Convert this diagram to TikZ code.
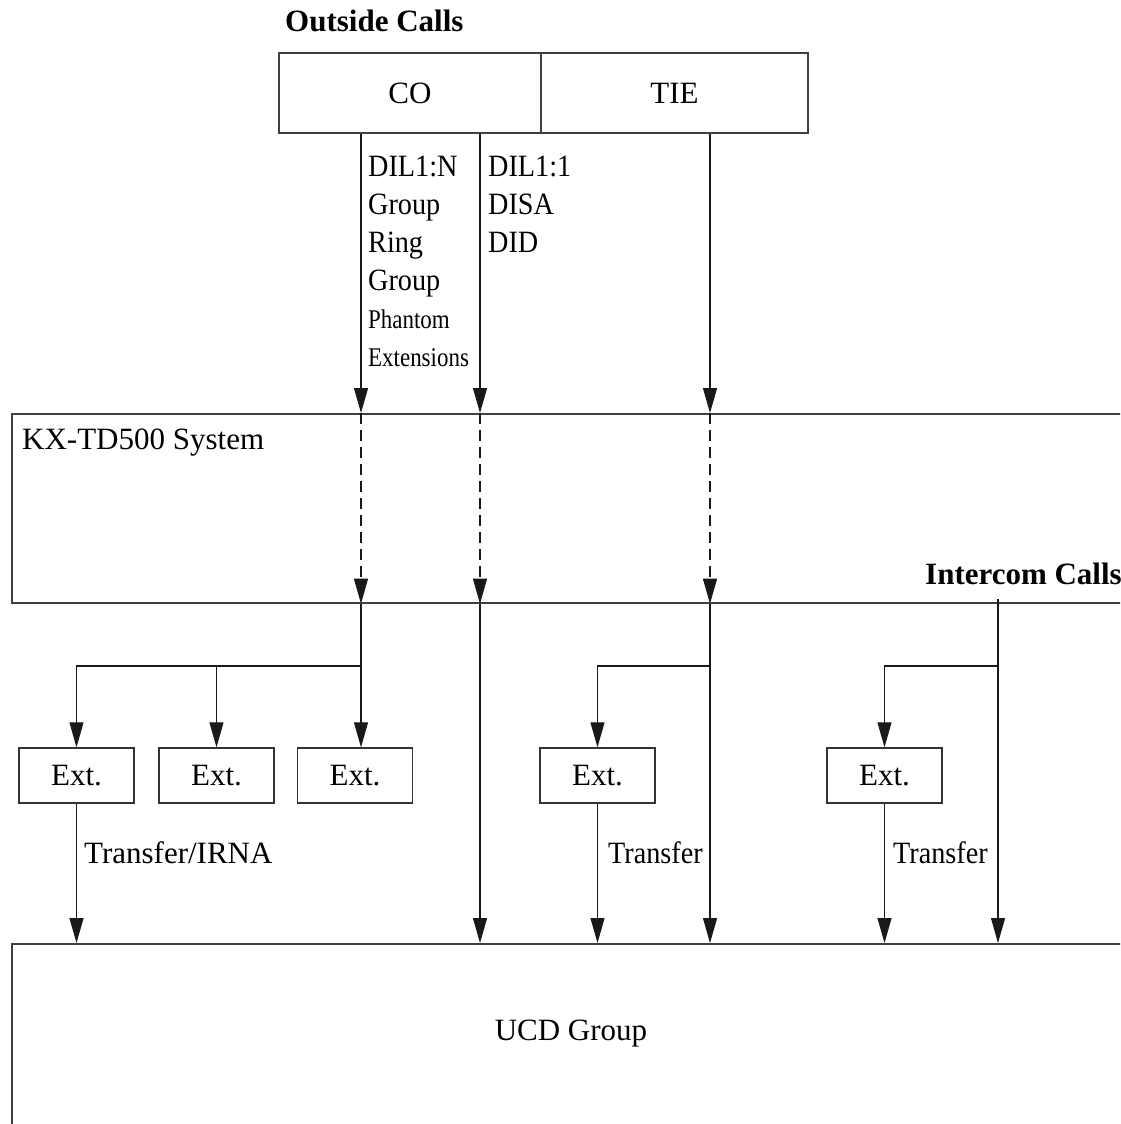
\documentclass[tikz,border=0pt]{standalone}
\usepackage{fontspec}
\setmainfont{Liberation Serif}
\newfontfamily\narrowserif[FakeStretch=0.85]{Liberation Serif}
\newfontfamily\condserif[FakeStretch=0.91]{Liberation Serif}
\usetikzlibrary{positioning, arrows.meta}

\begin{document}
\begin{tikzpicture}[
    x=1pt, y=-1pt,
    every node/.style={font=\fontsize{31}{38}\selectfont, inner sep=0pt},
    heading/.style={font=\fontsize{31}{38}\selectfont\bfseries},
    cond/.style={font=\condserif\fontsize{31}{38}\selectfont},
    trunk/.style={draw=black!75, line width=1.7pt, minimum height=80pt},
    sysbox/.style={draw=black!75, line width=1.7pt, anchor=north west,
        minimum width=1150pt},
    extbox/.style={draw=black!80, line width=1.4pt, minimum width=115pt,
        minimum height=55pt},
    arr/.style={-{Triangle[length=25pt, width=14pt]}, line width=1.1pt, color=black!90},
    darr/.style={arr, dash pattern=on 11pt off 6pt},
    lbl/.style={anchor=base west},
]
\clip (0,0) rectangle (1120,1124);

% Outside calls (top)
\node[heading, lbl] (outside) at (285,32) {Outside Calls};
\node[trunk, minimum width=262pt] (co) at (410,93) {CO};
\node[trunk, minimum width=267pt] (tie) at (674.5,93) {TIE};

% columns of the incoming lines
\coordinate (colA) at (361,0);
\coordinate (colB) at (480,0);
\coordinate (colC) at (710,0);
\coordinate (colD) at (998,0);

\node[cond, anchor=north west, align=left] (dilN) at (368,156)
    {DIL1:N\\Group\\Ring\\Group\\{\narrowserif\fontsize{27}{38}\selectfont Phantom}\\{\narrowserif\fontsize{27}{38}\selectfont Extensions}};
\node[cond, anchor=north west, align=left] (dilOne) at (488,156) {DIL1:1\\DISA\\DID};

% System box
\node[sysbox, minimum height=189pt] (kx) at (11,413) {};
\node[lbl] (kxlabel) at (22,449) {KX-TD500 System};
\node[heading, anchor=base east] (intercom) at (1122,584) {Intercom Calls};

% Extensions
\node[extbox] (ext1) at (76.5,775.5) {Ext.};
\node[extbox] (ext2) at (216.5,775.5) {Ext.};
\node[extbox] (ext3) at (355,775.5) {Ext.};
\node[extbox] (ext4) at (597.5,775.5) {Ext.};
\node[extbox] (ext5) at (884.5,775.5) {Ext.};

% UCD group (bottom)
\node[sysbox, minimum height=300pt] (ucd) at (11,943) {};
\node (ucdlabel) at (571,1034) {UCD Group};

\node[lbl] (tirna) at (84,863) {Transfer/IRNA};
\node[cond, lbl] (tfer1) at (608,863) {Transfer};
\node[cond, lbl] (tfer2) at (893,863) {Transfer};

% ── Arrows ──
\draw[arr] (co.south -| colA) -- (kx.north -| colA);
\draw[arr] (co.south -| colB) -- (kx.north -| colB);
\draw[arr] (tie.south -| colC) -- (kx.north -| colC);

\draw[darr] (kx.north -| colA) -- (kx.south -| colA);
\draw[darr] (kx.north -| colB) -- (kx.south -| colB);
\draw[darr] (kx.north -| colC) -- (kx.south -| colC);

\coordinate (splitA) at (361,666);
\coordinate (splitC) at (710,666);
\coordinate (splitD) at (998,666);
\coordinate (icstart) at (998,599);

\draw[arr] (kx.south -| colA) -- (ext3.north -| colA);
\draw[arr] (splitA) -| (ext1.north);
\draw[arr] (ext2.north |- splitA) -- (ext2.north);

\draw[arr] (kx.south -| colB) -- (ucd.north -| colB);
\draw[arr] (kx.south -| colC) -- (ucd.north -| colC);
\draw[arr] (splitC) -| (ext4.north);

\draw[arr] (icstart) -- (ucd.north -| icstart);
\draw[arr] (splitD) -| (ext5.north);

\draw[arr] (ext1.south) -- (ucd.north -| ext1.south);
\draw[arr] (ext4.south) -- (ucd.north -| ext4.south);
\draw[arr] (ext5.south) -- (ucd.north -| ext5.south);

\end{tikzpicture}
\end{document}
